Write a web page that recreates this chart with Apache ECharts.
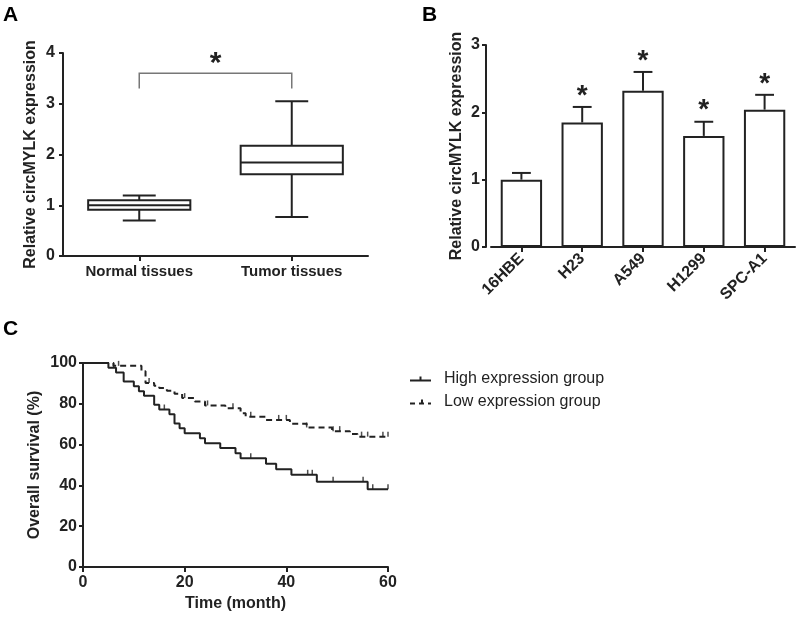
<!DOCTYPE html>
<html><head><meta charset="utf-8">
<script src="https://cdn.jsdelivr.net/npm/echarts@6/dist/echarts.min.js"></script>
<style>html,body{margin:0;padding:0;background:#fff}#c{width:799px;height:618px}</style>
</head><body><div id="c"></div>
<script>
// ---- Panel A: box plot ----
const boxCategories = ['Normal tissues', 'Tumor tissues'];
const boxMin    = [0.70, 0.77];
const boxQ1     = [0.91, 1.61];
const boxMedian = [1.00, 1.84];
const boxQ3     = [1.10, 2.17];
const boxMax    = [1.19, 3.05];
const bracketLow = 3.3, bracketHigh = 3.6;

// ---- Panel B: bar chart ----
const cellLines = ['16HBE', 'H23', 'A549', 'H1299', 'SPC-A1'];
const cellMean  = [1.00, 1.85, 2.32, 1.65, 2.04];
const cellErr   = [0.10, 0.23, 0.28, 0.21, 0.22];
const cellSig   = [false, true, true, true, true];

// ---- Panel C: Kaplan-Meier ----
const highTime = [0, 5, 6.5, 8, 10, 11, 12, 14, 15, 17, 18, 19, 20, 23, 24, 27, 30, 31, 36, 38, 41, 46, 56, 60];
const highSurv = [100, 97.7, 95.4, 90.9, 88.6, 86.2, 83.9, 79.5, 77.2, 74.9, 70.3, 68, 65.6, 63.1, 60.7, 58.3, 55.8, 53.3, 50.6, 47.9, 45.2, 41.8, 38.1, 38.1];
const highCensorTime = [6, 16, 33, 44.2, 45.1, 49.2, 55.1, 57, 60];
const highCensorSurv = [97.7, 77.2, 53.3, 45.2, 45.2, 41.8, 41.8, 38.1, 38.1];

const lowTime = [0, 6, 11.5, 12.3, 14, 15, 16.5, 18, 19.5, 22, 24, 28, 31, 32, 36, 40.7, 44, 49, 52.5, 54, 60];
const lowSurv = [100, 98.6, 95.9, 90.2, 88.8, 87.7, 86.4, 84.9, 82.8, 81.1, 79.2, 77.8, 75.4, 73.7, 72.1, 70.2, 68.4, 66.6, 65.2, 63.9, 63.9];
const lowCensorTime = [7, 13, 20, 24.5, 29.5, 33, 38.5, 40, 44, 49.2, 50.5, 54.8, 56, 59, 60];
const lowCensorSurv = [98.6, 90.2, 82.8, 79.2, 77.8, 73.7, 72.1, 72.1, 68.4, 66.6, 66.6, 63.9, 63.9, 63.9, 63.9];

const FONT = '"Liberation Sans", Arial, sans-serif';
const INK = '#222';

const chart = echarts.init(document.getElementById('c'));

function axisCommon(extra) {
  return Object.assign({
    axisLine: { show: true, lineStyle: { color: INK, width: 2 } },
    axisTick: { show: true, length: 4, lineStyle: { color: INK, width: 2 } },
    splitLine: { show: false },
    axisLabel: { color: INK, fontFamily: FONT, fontWeight: 'bold', fontSize: 16 },
    nameTextStyle: { color: INK, fontFamily: FONT, fontWeight: 'bold', fontSize: 16 }
  }, extra);
}

function boxRender(params, api) {
  const i = api.value(0);
  const w = api.size([1, 0])[0];
  const bw = w * 0.67, cw = w * 0.216;
  const pMin = api.coord([i, api.value(1)]);
  const pQ1 = api.coord([i, api.value(2)]);
  const pMed = api.coord([i, api.value(3)]);
  const pQ3 = api.coord([i, api.value(4)]);
  const pMax = api.coord([i, api.value(5)]);
  const x = pMin[0];
  const st = { stroke: INK, lineWidth: 2, fill: null };
  return { type: 'group', children: [
    { type: 'line', shape: { x1: x, y1: pMax[1], x2: x, y2: pQ3[1] }, style: st },
    { type: 'line', shape: { x1: x, y1: pQ1[1], x2: x, y2: pMin[1] }, style: st },
    { type: 'line', shape: { x1: x - cw / 2, y1: pMax[1], x2: x + cw / 2, y2: pMax[1] }, style: st },
    { type: 'line', shape: { x1: x - cw / 2, y1: pMin[1], x2: x + cw / 2, y2: pMin[1] }, style: st },
    { type: 'rect', shape: { x: x - bw / 2, y: pQ3[1], width: bw, height: pQ1[1] - pQ3[1] }, style: { stroke: INK, lineWidth: 2, fill: '#fff' } },
    { type: 'line', shape: { x1: x - bw / 2, y1: pMed[1], x2: x + bw / 2, y2: pMed[1] }, style: st }
  ]};
}

function bracketRender(params, api) {
  const a = api.coord([api.value(0), api.value(2)]);
  const b = api.coord([api.value(0), api.value(3)]);
  const c = api.coord([api.value(1), api.value(3)]);
  const d = api.coord([api.value(1), api.value(2)]);
  return { type: 'group', children: [
    { type: 'polyline', shape: { points: [a, b, c, d] }, style: { stroke: '#777', lineWidth: 1.5, fill: null } },
    { type: 'text', style: { text: '*', x: (b[0] + c[0]) / 2, y: b[1] - 10, textAlign: 'center', textVerticalAlign: 'middle', font: 'bold 30px ' + FONT, fill: INK } }
  ]};
}

function errRender(params, api) {
  const i = api.value(0);
  const w = api.size([1, 0])[0];
  const cw = w * 0.31;
  const p0 = api.coord([i, api.value(1)]);
  const p1 = api.coord([i, api.value(2)]);
  const st = { stroke: INK, lineWidth: 2, fill: null };
  const children = [
    { type: 'line', shape: { x1: p0[0], y1: p0[1], x2: p1[0], y2: p1[1] }, style: st },
    { type: 'line', shape: { x1: p1[0] - cw / 2, y1: p1[1], x2: p1[0] + cw / 2, y2: p1[1] }, style: st }
  ];
  if (api.value(3)) {
    children.push({ type: 'text', style: { text: '*', x: p1[0], y: p1[1] - 11, textAlign: 'center', textVerticalAlign: 'middle', font: 'bold 28px ' + FONT, fill: INK } });
  }
  return { type: 'group', children };
}

const option = {
  animation: false,
  backgroundColor: '#fff',
  textStyle: { fontFamily: FONT },
  grid: [
    { left: 63, top: 53, width: 305, height: 203 },
    { left: 491, top: 45, width: 304, height: 202 },
    { left: 83, top: 363, width: 305, height: 204 }
  ],
  xAxis: [
    axisCommon({ gridIndex: 0, type: 'category', data: boxCategories,
      axisTick: { show: true, alignWithLabel: true, length: 5, lineStyle: { color: INK, width: 2 } },
      axisLabel: { color: INK, fontFamily: FONT, fontWeight: 'bold', fontSize: 15, margin: 8 } }),
    axisCommon({ gridIndex: 1, type: 'category', data: cellLines,
      axisTick: { show: true, alignWithLabel: true, length: 5, lineStyle: { color: INK, width: 2 } },
      axisLabel: { color: INK, fontFamily: FONT, fontWeight: 'bold', fontSize: 16, rotate: 45, margin: 9, interval: 0 } }),
    axisCommon({ gridIndex: 2, type: 'value', min: 0, max: 60, interval: 20,
      name: 'Time (month)', nameLocation: 'middle', nameGap: 29,
      axisTick: { show: true, length: 5, lineStyle: { color: INK, width: 2 } },
      axisLabel: { color: INK, fontFamily: FONT, fontWeight: 'bold', fontSize: 16, margin: 8 } })
  ],
  yAxis: [
    axisCommon({ gridIndex: 0, type: 'value', min: 0, max: 4, interval: 1,
      name: 'Relative circMYLK expression', nameLocation: 'middle', nameGap: 24,
      axisLabel: { color: INK, fontFamily: FONT, fontWeight: 'bold', fontSize: 16, margin: 8 } }),
    axisCommon({ gridIndex: 1, type: 'value', min: 0, max: 3, interval: 1, offset: 5,
      name: 'Relative circMYLK expression', nameLocation: 'middle', nameGap: 21,
      axisLabel: { color: INK, fontFamily: FONT, fontWeight: 'bold', fontSize: 16, margin: 6 } }),
    axisCommon({ gridIndex: 2, type: 'value', min: 0, max: 100, interval: 20,
      name: 'Overall survival (%)', nameLocation: 'middle', nameGap: 40,
      axisLabel: { color: INK, fontFamily: FONT, fontWeight: 'bold', fontSize: 16, margin: 6 } })
  ],
  legend: {
    orient: 'vertical', left: 410, top: 371, padding: 0, itemWidth: 21, itemHeight: 5, itemGap: 7,
    textStyle: { color: INK, fontFamily: FONT, fontSize: 16, lineHeight: 16, padding: [0, 0, 0, 8] },
    data: [
      { name: 'High expression group', icon: 'path://M0,3H21V5H0Z M9.5,0H11.5V3H9.5Z' },
      { name: 'Low expression group', icon: 'path://M0,3H5V5H0Z M9,3H14V5H9Z M11,0H13V3H11Z M18,3H21V5H18Z' }
    ]
  },
  graphic: [
    { type: 'text', left: 3, top: 5, style: { text: 'A', font: 'bold 21px ' + FONT, fill: '#000' } },
    { type: 'text', left: 422, top: 5, style: { text: 'B', font: 'bold 21px ' + FONT, fill: '#000' } },
    { type: 'text', left: 3, top: 319, style: { text: 'C', font: 'bold 21px ' + FONT, fill: '#000' } }
  ],
  series: [
    { type: 'custom', xAxisIndex: 0, yAxisIndex: 0, renderItem: boxRender, silent: true,
      data: boxCategories.map((c, i) => [i, boxMin[i], boxQ1[i], boxMedian[i], boxQ3[i], boxMax[i]]),
      encode: { x: 0, y: [1, 2, 3, 4, 5] } },
    { type: 'custom', xAxisIndex: 0, yAxisIndex: 0, renderItem: bracketRender, silent: true,
      data: [[0, 1, bracketLow, bracketHigh]], encode: { x: [0, 1], y: [2, 3] } },
    { type: 'bar', xAxisIndex: 1, yAxisIndex: 1, data: cellMean, barWidth: '68%',
      itemStyle: { color: '#fff', borderColor: INK, borderWidth: 2 }, silent: true },
    { type: 'custom', xAxisIndex: 1, yAxisIndex: 1, renderItem: errRender, silent: true, z: 5,
      data: cellLines.map((c, i) => [i, cellMean[i], cellMean[i] + cellErr[i], cellSig[i] ? 1 : 0]),
      encode: { x: 0, y: [1, 2] } },
    { name: 'High expression group', type: 'line', xAxisIndex: 2, yAxisIndex: 2, step: 'end',
      showSymbol: false, symbol: 'none', color: INK,
      lineStyle: { color: INK, width: 2 },
      data: highTime.map((t, i) => [t, highSurv[i]]) },
    { name: 'Low expression group', type: 'line', xAxisIndex: 2, yAxisIndex: 2, step: 'end',
      showSymbol: false, symbol: 'none', color: INK,
      lineStyle: { color: INK, width: 2, type: [6, 4] },
      data: lowTime.map((t, i) => [t, lowSurv[i]]) },
    { name: 'highCensor', type: 'scatter', xAxisIndex: 2, yAxisIndex: 2, symbol: 'rect', symbolSize: [1.5, 5], symbolOffset: [0, -2.5],
      itemStyle: { color: INK }, silent: true,
      data: highCensorTime.map((t, i) => [t, highCensorSurv[i]]) },
    { name: 'lowCensor', type: 'scatter', xAxisIndex: 2, yAxisIndex: 2, symbol: 'rect', symbolSize: [1.5, 5], symbolOffset: [0, -2.5],
      itemStyle: { color: INK }, silent: true,
      data: lowCensorTime.map((t, i) => [t, lowCensorSurv[i]]) }
  ]
};
chart.setOption(option);
</script></body></html>
